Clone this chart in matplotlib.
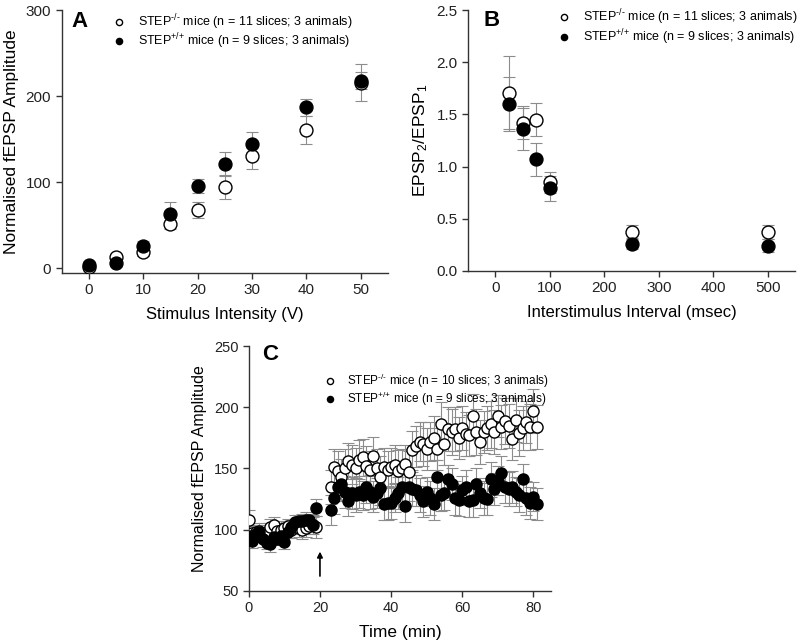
import matplotlib
matplotlib.use("Agg")
import matplotlib.pyplot as plt

plt.rcParams['font.family'] = ['Liberation Sans', 'DejaVu Sans']
plt.rcParams['mathtext.fontset'] = 'custom'
plt.rcParams['mathtext.rm'] = 'Liberation Sans'
plt.rcParams['mathtext.it'] = 'Liberation Sans:italic'
plt.rcParams['mathtext.bf'] = 'Liberation Sans:bold'

# ---- panel A: input/output ----
a_volts = [0, 5, 10, 15, 20, 25, 30, 40, 50]
a_ko = [2, 13, 19, 52, 68, 95, 131, 161, 216]
a_ko_err = [3, 4, 5, 6, 9, 14, 15, 16, 21]
a_wt = [4, 6, 26, 63, 96, 121, 144, 187, 218]
a_wt_err = [3, 3, 6, 14, 8, 14, 14, 10, 10]

# ---- panel B: paired pulse ----
b_isi = [25, 50, 75, 100, 250, 500]
b_ko = [1.71, 1.42, 1.45, 0.85, 0.37, 0.37]
b_ko_err = [0.35, 0.16, 0.16, 0.10, 0.07, 0.07]
b_wt = [1.60, 1.36, 1.07, 0.79, 0.26, 0.24]
b_wt_err = [0.26, 0.20, 0.16, 0.12, 0.05, 0.06]

# ---- panel C: LTP time course ----
c_time = list(range(0, 20)) + list(range(23, 82))
c_ko = [108, 97, 98, 99, 96, 98, 102, 104, 99, 100, 101, 103, 100, 102, 101, 100, 101, 103, 104, 102,
        135, 151, 148, 143, 150, 156, 153, 150, 157, 159, 152, 149, 160, 150, 143, 151, 149, 151, 153, 148,
        150, 154, 147, 165, 168, 172, 170, 166, 172, 175, 166, 186, 170, 182, 180, 182, 175, 183, 178, 177,
        193, 180, 172, 180, 183, 186, 180, 193, 184, 189, 185, 174, 190, 179, 183, 188, 184, 197, 184]
c_ko_err = [8, 6, 6, 6, 6, 7, 7, 6, 6, 7, 6, 6, 7, 6, 7, 8, 7, 7, 8, 9,
            14, 15, 16, 15, 16, 15, 16, 17, 16, 15, 16, 15, 16, 16, 17, 16, 15, 16, 16, 17,
            16, 15, 17, 16, 17, 16, 18, 17, 16, 18, 17, 18, 17, 18, 19, 18, 17, 18, 18, 17,
            18, 19, 18, 17, 18, 19, 18, 17, 18, 19, 18, 17, 18, 19, 18, 17, 19, 18, 18]
c_wt = [95, 91, 96, 98, 92, 89, 88, 94, 92, 95, 90, 98, 102, 106, 107, 107, 108, 108, 104, 118,
        116, 126, 135, 137, 131, 123, 130, 128, 131, 128, 135, 131, 127, 130, 134, 121, 122, 122, 126, 130,
        135, 119, 135, 133, 132, 128, 123, 131, 126, 121, 143, 128, 130, 141, 137, 126, 124, 132, 135, 123,
        124, 137, 130, 126, 125, 141, 133, 140, 146, 135, 133, 135, 131, 128, 141, 126, 122, 127, 121]
c_wt_err = [6, 6, 5, 6, 6, 5, 6, 6, 5, 6, 6, 5, 6, 6, 5, 6, 6, 5, 6, 7,
            12, 13, 12, 14, 13, 12, 13, 14, 13, 12, 13, 14, 13, 12, 14, 13, 14, 13, 12, 13,
            14, 13, 12, 14, 13, 14, 13, 12, 14, 13, 14, 13, 14, 12, 13, 14, 13, 12, 14, 13,
            14, 13, 12, 14, 13, 14, 13, 12, 14, 13, 14, 13, 12, 14, 13, 14, 13, 12, 13]
arrow_t = 20
arrow_y = (62, 82)

lab_a = [r'STEP$^{\text{-/-}}$ mice (n = 11 slices; 3 animals)',
         r'STEP$^{\text{+/+}}$ mice (n = 9 slices; 3 animals)']
lab_c = [r'STEP$^{\text{-/-}}$ mice (n = 10 slices; 3 animals)',
         r'STEP$^{\text{+/+}}$ mice (n = 9 slices; 3 animals)']

ERR = '#8c8c8c'


def style(ax, ls=11):
    for s in ['top', 'right']:
        ax.spines[s].set_visible(False)
    for s in ['left', 'bottom']:
        ax.spines[s].set_color('#333333')
        ax.spines[s].set_linewidth(1.0)
    ax.tick_params(direction='out', length=4, width=1, color='#333333',
                   labelsize=ls, labelcolor='#222222')


def draw(ax, x, ko, ko_err, wt, wt_err, labels, ms):
    ax.errorbar(x, ko, yerr=ko_err, fmt='none', ecolor=ERR, elinewidth=0.8,
                capsize=4.5, capthick=0.8, zorder=1)
    ax.errorbar(x, wt, yerr=wt_err, fmt='none', ecolor=ERR, elinewidth=0.8,
                capsize=4.5, capthick=0.8, zorder=1)
    h1, = ax.plot(x, ko, 'o', ms=ms, mfc='white', mec='black', mew=1.0,
                  ls='none', zorder=3, label=labels[0])
    h2, = ax.plot(x, wt, 'o', ms=ms, mfc='black', mec='black', mew=1.0,
                  ls='none', zorder=4, label=labels[1])
    return h1, h2


def legend(ax, handles, x, y, pad, fs, ms):
    ax.legend(handles=handles, loc='upper left', bbox_to_anchor=(x, y),
              frameon=False, fontsize=fs, markerscale=ms, handlelength=1.0,
              handletextpad=pad, labelspacing=0.0, borderpad=0, borderaxespad=0)


fig = plt.figure(figsize=(8, 6.4), dpi=100)

# A
ax = fig.add_axes([0.077, 0.574, 0.408, 0.410])
style(ax)
hs = draw(ax, a_volts, a_ko, a_ko_err, a_wt, a_wt_err, lab_a, 9.3)
ax.set_xlim(-5, 55)
ax.set_ylim(-5, 300)
ax.set_xticks([0, 10, 20, 30, 40, 50])
ax.set_yticks([0, 100, 200, 300])
ax.set_xlabel('Stimulus Intensity (V)', fontsize=12, labelpad=7)
ax.set_ylabel('Normalised fEPSP Amplitude', fontsize=12.5, labelpad=5)
ax.text(0.056, 0.958, 'A', transform=ax.transAxes, fontsize=16,
        fontweight='bold', ha='center', va='center')
legend(ax, hs, 0.156, 0.993, 1.05, 9, 0.48)

# B
ax = fig.add_axes([0.585, 0.577, 0.409, 0.407])
style(ax)
hs = draw(ax, b_isi, b_ko, b_ko_err, b_wt, b_wt_err, lab_a, 9.3)
ax.set_xlim(-50, 550)
ax.set_ylim(0, 2.5)
ax.set_xticks([0, 100, 200, 300, 400, 500])
ax.set_yticks([0.0, 0.5, 1.0, 1.5, 2.0, 2.5])
ax.set_yticklabels(['0.0', '0.5', '1.0', '1.5', '2.0', '2.5'])
ax.set_xlabel('Interstimulus Interval (msec)', fontsize=12, labelpad=7)
ax.set_ylabel(r'EPSP$_2$/EPSP$_1$', fontsize=12.5, labelpad=5)
ax.text(0.073, 0.962, 'B', transform=ax.transAxes, fontsize=16,
        fontweight='bold', ha='center', va='center')
legend(ax, hs, 0.274, 1.01, 1.05, 9, 0.48)

# C
ax = fig.add_axes([0.311, 0.077, 0.378, 0.382])
style(ax, 10.5)
hs = draw(ax, c_time, c_ko, c_ko_err, c_wt, c_wt_err, lab_c, 8.0)
ax.annotate('', xy=(arrow_t, arrow_y[1]), xytext=(arrow_t, arrow_y[0]),
            arrowprops=dict(arrowstyle='-|>', color='black', lw=1.2,
                            mutation_scale=8, shrinkA=0, shrinkB=0))
ax.set_xlim(0, 85)
ax.set_ylim(50, 250)
ax.set_xticks([0, 20, 40, 60, 80])
ax.set_yticks([50, 100, 150, 200, 250])
ax.set_xlabel('Time (min)', fontsize=12.5, labelpad=7)
ax.set_ylabel('Normalised fEPSP Amplitude', fontsize=11.5, labelpad=5)
ax.text(0.07, 0.965, 'C', transform=ax.transAxes, fontsize=16,
        fontweight='bold', ha='center', va='center')
legend(ax, hs, 0.25, 0.895, 0.92, 8.5, 0.55)

fig.savefig('out.png', dpi=100)
